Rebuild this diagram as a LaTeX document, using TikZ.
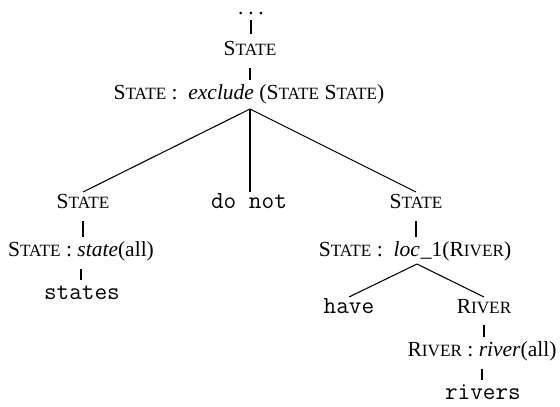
\documentclass[tikz,border=0pt]{standalone}
\usepackage{fontspec}
\setmainfont{Liberation Serif}
\usetikzlibrary{calc}
\newcommand\fsc[2]{#1{\fontsize{8pt}{9pt}\selectfont #2}}
\newcommand\cState{\fsc{S}{TATE}}
\newcommand\cRiver{\fsc{R}{IVER}}
\tikzset{
  lbl/.style={inner sep=0pt, outer sep=0pt, anchor=base, font=\fontsize{10pt}{12pt}\selectfont},
  word/.style={lbl, font=\fontsize{11.4pt}{13pt}\ttfamily},
  vline/.style={line width=0.9pt},
  dline/.style={line width=0.5pt},
}
\begin{document}
\begin{tikzpicture}[x=0.465pt, y=-0.465pt]
\path[use as bounding box] (0,0) rectangle (560,407);
% nodes
\node[lbl] (dots) at (251,14) {.\kern2.2pt.\kern2.2pt.};
\node[lbl] (s1) at (250,55) {\cState};
\node[lbl] (exc) at (249,99) {\cState\ :~ \textit{exclude} (\cState\ \cState)};
\node[lbl] (ls) at (83,208) {\cState};
\node[word] (donot) at (249,208) {do not};
\node[lbl] (rs) at (416,208) {\cState};
\node[lbl] (lsa) at (81,256) {\cState\ : \textit{state}(all)};
\node[word] (states) at (82,299) {states};
\node[lbl] (loc) at (415,256) {\cState\ :~ \textit{loc}\kern0.5pt\_1(\cRiver)};
\node[word] (have) at (349,313) {have};
\node[lbl] (rv) at (484,313) {\cRiver};
\node[lbl] (rva) at (482,356) {\cRiver\ : \textit{river}(all)};
\node[word] (rivers) at (483,399) {rivers};
% unary edges
\draw[vline] ($(dots.base)+(0,6)$) -- ($(dots.base|-s1.base)+(0,-21)$);
\draw[vline] ($(s1.base)+(0,13)$) -- ($(s1.base|-exc.base)+(0,-19)$);
\draw[vline] ($(ls.base)+(0,13)$) -- ($(ls.base|-lsa.base)+(0,-19)$);
\draw[vline] ($(lsa.base)+(0,13)$) -- ($(lsa.base|-states.base)+(0,-19)$);
\draw[vline] ($(rs.base)+(0,13)$) -- ($(rs.base|-loc.base)+(0,-19)$);
\draw[vline] ($(rv.base)+(0,12)$) -- ($(rv.base|-rva.base)+(0,-19)$);
\draw[vline] ($(rva.base)+(0,13)$) -- ($(rva.base|-rivers.base)+(0,-19)$);
% fan from exclude
\coordinate (apex1) at ($(exc.base)+(1,10)$);
\coordinate (midend) at ($(donot.base)+(0,-16)$);
\draw[dline] (apex1) -- ($(ls.base)+(0,-16)$);
\draw[vline] (apex1) -- (apex1|-midend);
\draw[dline] (apex1) -- ($(rs.base)+(0,-16)$);
% fan from loc
\coordinate (apex2) at ($(loc.base)+(2,8)$);
\draw[dline] (apex2) -- ($(have.base)+(0,-16)$);
\draw[dline] (apex2) -- ($(rv.base)+(0,-16)$);
\end{tikzpicture}
\end{document}
